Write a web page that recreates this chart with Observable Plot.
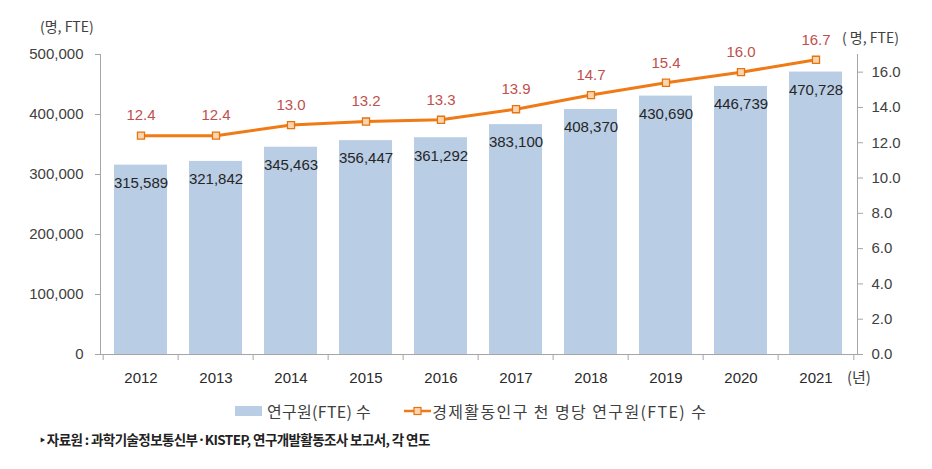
<!DOCTYPE html>
<html><head><meta charset="utf-8">
<script src="https://cdn.jsdelivr.net/npm/d3@7"></script>
<script src="https://cdn.jsdelivr.net/npm/@observablehq/plot@0.6"></script>
<style>
body{margin:0;background:#fff;font-family:"Liberation Sans","Noto Sans CJK KR",sans-serif;}
#wrap{position:relative;width:932px;height:469px;overflow:hidden;}
.abs{position:absolute;white-space:nowrap;color:#404040;}
.unit{font-family:"Noto Sans CJK KR",sans-serif;font-size:14px;}
#legend{position:absolute;top:399px;left:235px;display:flex;align-items:center;font-family:"Noto Sans CJK KR",sans-serif;font-size:16px;color:#404040;}
#caption{position:absolute;top:429px;left:40px;font-family:"Noto Sans CJK KR",sans-serif;font-size:13.5px;font-weight:bold;color:#222;letter-spacing:-0.6px;}
</style></head>
<body><div id="wrap"></div>
<script>
const years = ["2012","2013","2014","2015","2016","2017","2018","2019","2020","2021"];
const researchers = [315589,321842,345463,356447,361292,383100,408370,430690,446739,470728];
const perThousand = [12.4,12.4,13.0,13.2,13.3,13.9,14.7,15.4,16.0,16.7];
const leftTicks = [0,100000,200000,300000,400000,500000];
const rightTicks = [0,2,4,6,8,10,12,14,16];
const leftMax = 500000, rightMax = 17;
const barLabel = "연구원(FTE) 수";
const lineLabel = "경제활동인구 천 명당 연구원(FTE) 수";
const unitLeft = "(명, FTE)", unitRight = "( 명, FTE)", unitX = "(년)";
const source = "‣ 자료원 : 과학기술정보통신부·KISTEP, 연구개발활동조사 보고서, 각 연도";

const k = leftMax / rightMax;
const data = years.map((y,i)=>({year:y, n:researchers[i], r:perThousand[i]}));
const step = (932-100-75)/years.length;
const fmt = d3.format(",");

const plot = Plot.plot({
  width:932, height:395,
  marginTop:54, marginBottom:41, marginLeft:100, marginRight:75,
  style:{fontFamily:"Liberation Sans, sans-serif", fontSize:"15px", color:"#404040", background:"transparent"},
  x:{type:"band", domain:years, paddingInner:0.29, paddingOuter:0.145, label:null},
  y:{domain:[0,leftMax], label:null},
  marks:[
    Plot.barY(data,{x:"year", y:"n", fill:"#b9cde5"}),
    Plot.ruleY([0],{stroke:"#a6a6a6", strokeWidth:1.2}),
    Plot.ruleX(years,{x:d=>d, y1:0, y2:-leftMax*6/300, dx:-step/2, stroke:"#a6a6a6"}),
    Plot.ruleX([years[years.length-1]],{x:d=>d, y1:0, y2:-leftMax*6/300, dx:step/2, stroke:"#a6a6a6"}),
    Plot.frame({anchor:"left", stroke:"#a6a6a6"}),
    Plot.frame({anchor:"right", stroke:"#a6a6a6"}),
    Plot.line(data,{x:"year", y:d=>d.r*k, stroke:"#ef7a16", strokeWidth:3}),
    Plot.dot(data,{x:"year", y:d=>d.r*k, symbol:"square", r:4, fill:"#fcd5b0", stroke:"#e4740f", strokeWidth:1.3}),
    Plot.text(data,{x:"year", y:d=>d.r*k, text:d=>d.r.toFixed(1), dy:-20, fill:"#c0504d", fontSize:15}),
    Plot.text(data,{x:"year", y:"n", text:d=>fmt(d.n), dy:18, fill:"#262626", fontSize:15}),
    Plot.axisY(leftTicks,{anchor:"left", label:null, tickSize:5, tickPadding:12, tickFormat:fmt, stroke:"#a6a6a6", fill:"#404040", fontSize:15}),
    Plot.axisY(rightTicks.map(t=>t*k),{anchor:"right", label:null, tickSize:5, tickPadding:9, tickFormat:d=>(d/k).toFixed(1), stroke:"#a6a6a6", fill:"#404040", fontSize:15}),
    Plot.axisX({label:null, tickSize:0, tickPadding:18, fill:"#2a2a2a", fontSize:15})
  ]
});
const wrap = document.getElementById("wrap");
plot.style.position="absolute"; plot.style.left="0"; plot.style.top="0";
wrap.appendChild(plot);

function addAbs(text, left, top, cls, extra){
  const d=document.createElement("div"); d.className="abs "+(cls||""); d.textContent=text;
  d.style.left=left+"px"; d.style.top=top+"px"; if(extra) Object.assign(d.style, extra);
  wrap.appendChild(d); return d;
}
addAbs(unitLeft, 40, 16, "unit");
addAbs(unitRight, 842, 27, "unit");
addAbs(unitX, 847, 366, "unit", {fontSize:"15px"});

const lg=document.createElement("div"); lg.id="legend";
lg.innerHTML = `<svg width="28" height="12" style="margin-right:4px"><rect x="0" y="1" width="27" height="10" fill="#b9cde5"/></svg><span style="letter-spacing:0.3px">${barLabel}</span>
<svg width="27" height="12" style="margin-left:33px;margin-right:1px"><line x1="0" y1="6" x2="27" y2="6" stroke="#ef7a16" stroke-width="2.5"/><rect x="10" y="2.5" width="7" height="7" fill="#fcd5b0" stroke="#e4740f" stroke-width="1.2"/></svg><span style="letter-spacing:1.4px">${lineLabel}</span>`;
wrap.appendChild(lg);
const cap=document.createElement("div"); cap.id="caption"; cap.textContent=source; wrap.appendChild(cap);
</script></body></html>
